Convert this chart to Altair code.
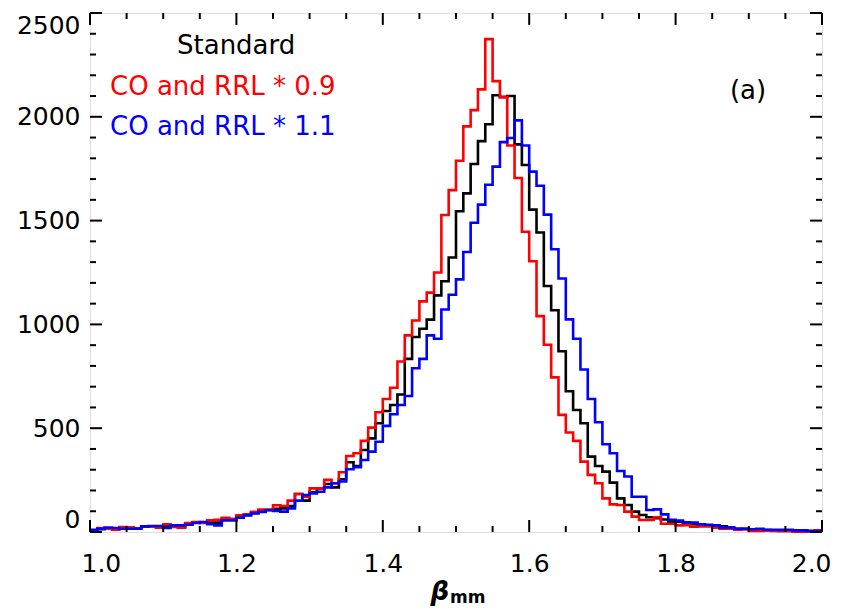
import altair as alt
import pandas as pd

# ---------------- data ----------------
bin_left = [round(1.0 + 0.01 * i, 2) for i in range(100)]

standard = [8, 14, 18, 16, 18, 20, 17, 26, 28, 24,
            28, 28, 24, 38, 45, 45, 46, 45, 62, 60,
            74, 82, 92, 102, 106, 112, 114, 125, 183, 151,
            191, 210, 231, 215, 254, 336, 318, 395, 451, 524,
            583, 612, 662, 834, 939, 979, 1023, 1140, 1208, 1322,
            1545, 1631, 1773, 1883, 1964, 2104, 2095, 2100, 1867, 1768,
            1553, 1443, 1185, 1068, 871, 678, 588, 524, 363, 318,
            291, 238, 162, 130, 98, 82, 71, 66, 60, 50,
            50, 43, 37, 36, 32, 29, 27, 22, 16, 14,
            12, 10, 9, 8, 7, 6, 5, 5, 4, 4]

co_rrl_09 = [8, 19, 16, 11, 24, 21, 16, 27, 27, 21,
             37, 24, 21, 43, 48, 43, 56, 59, 69, 64,
             80, 85, 97, 108, 108, 129, 125, 151, 183, 170,
             210, 210, 251, 235, 288, 366, 379, 439, 503, 577,
             641, 695, 821, 947, 1019, 1111, 1153, 1250, 1527, 1647,
             1788, 1954, 2032, 2132, 2374, 2172, 2096, 1862, 1705, 1446,
             1304, 1040, 902, 745, 564, 479, 439, 339, 275, 235,
             162, 133, 130, 98, 74, 58, 58, 71, 40, 40,
             32, 33, 26, 27, 27, 21, 16, 16, 11, 16,
             5, 5, 8, 5, 4, 4, 1, 1, 5, 8]

co_rrl_11 = [10, 16, 21, 19, 16, 16, 16, 27, 29, 29,
             19, 32, 32, 35, 43, 48, 37, 32, 56, 56,
             69, 80, 89, 97, 105, 101, 98, 114, 151, 178,
             186, 194, 215, 235, 243, 302, 312, 347, 387, 435,
             511, 567, 612, 655, 789, 834, 947, 931, 1072, 1143,
             1217, 1349, 1490, 1577, 1673, 1760, 1878, 1898, 1983, 1862,
             1736, 1668, 1529, 1362, 1221, 1024, 931, 783, 641, 529,
             423, 379, 294, 267, 170, 170, 106, 109, 85, 59,
             55, 47, 45, 37, 35, 32, 21, 21, 16, 16,
             13, 16, 11, 11, 10, 11, 8, 8, 5, 5]

series_names = ["Standard", "CO and RRL * 0.9", "CO and RRL * 1.1"]
series_colors = ["#000000", "#FF0000", "#0000FF"]
panel_label = "(a)"

x_major = [1.0, 1.2, 1.4, 1.6, 1.8, 2.0]
x_minor = [round(1.0 + 0.05 * i, 2) for i in range(21) if i % 4 != 0]
y_major = [0, 500, 1000, 1500, 2000, 2500]
y_minor = [v for v in range(100, 2500, 100) if v % 500 != 0]

# ---------------- layout ----------------
W, H = 732, 519
FONT = "DejaVu Sans"
MAJ, MIN = 12, 6

xs = alt.Scale(domain=[1.0, 2.0], nice=False, zero=False)
ys = alt.Scale(domain=[0, 2500], nice=False)

x_axis = alt.Axis(values=x_major, format=".1f", title=None, ticks=False, domain=False,
                  grid=False, labelFont=FONT, labelFontSize=25,
                  labelColor="black", labelPadding=19, labelFlush=True, labelFlushOffset=9)
y_axis = alt.Axis(values=y_major, format="d", title=None, ticks=False, domain=False,
                  grid=False, labelFont=FONT, labelFontSize=25,
                  labelColor="black", labelPadding=10, labelFlush=True)


def series_df(vals):
    return pd.DataFrame({"x": bin_left + [2.0], "y": vals + [vals[-1]]})


def line(vals, color):
    return alt.Chart(series_df(vals)).mark_line(
        interpolate="step-after", color=color, strokeWidth=2.6
    ).encode(x=alt.X("x:Q", scale=xs, axis=x_axis), y=alt.Y("y:Q", scale=ys, axis=y_axis))


layers = [line(standard, series_colors[0]),
          line(co_rrl_09, series_colors[1]),
          line(co_rrl_11, series_colors[2])]

# tick marks pointing inward on all four sides
def xticks(vals, length):
    d = pd.DataFrame({"x": vals})
    base = alt.Chart(d).mark_rule(color="black", strokeWidth=2)
    bottom = base.encode(x=alt.X("x:Q", scale=xs, axis=x_axis), y=alt.value(H), y2=alt.value(H - length))
    top = base.encode(x=alt.X("x:Q", scale=xs, axis=x_axis), y=alt.value(0), y2=alt.value(length))
    return [bottom, top]


def yticks(vals, length):
    d = pd.DataFrame({"y": vals})
    base = alt.Chart(d).mark_rule(color="black", strokeWidth=2)
    left = base.encode(y=alt.Y("y:Q", scale=ys, axis=y_axis), x=alt.value(0), x2=alt.value(length))
    right = base.encode(y=alt.Y("y:Q", scale=ys, axis=y_axis), x=alt.value(W), x2=alt.value(W - length))
    return [left, right]


layers += xticks(x_major, MAJ) + xticks(x_minor, MIN) + yticks(y_major, MAJ) + yticks(y_minor, MIN)

# legend-like labels
def label(text, color, px, py, align="left", size=26):
    return alt.Chart(pd.DataFrame({"t": [text]})).mark_text(
        align=align, baseline="middle", font=FONT, fontSize=size, color=color
    ).encode(x=alt.value(px), y=alt.value(py), text="t:N")


layers += [label(series_names[0], series_colors[0], 87, 33),
           label(series_names[1], series_colors[1], 20, 74),
           label(series_names[2], series_colors[2], 20, 114),
           label(panel_label, "black", 658, 78, align="center")]

# x-axis title: beta with subscript mm
beta = alt.Chart(pd.DataFrame({"t": ["β"]})).mark_text(
    align="right", baseline="alphabetic", font=FONT, fontSize=26,
    fontWeight="bold", fontStyle="italic", color="black"
).encode(x=alt.value(359), y=alt.value(587), text="t:N")
sub = alt.Chart(pd.DataFrame({"t": ["mm"]})).mark_text(
    align="left", baseline="alphabetic", font=FONT, fontSize=17,
    fontWeight="bold", color="black"
).encode(x=alt.value(360), y=alt.value(590), text="t:N")
layers += [beta, sub]

chart = alt.layer(*layers).properties(
    width=W, height=H,
    autosize=alt.AutoSizeParams(type="none"),
    padding={"left": 82, "top": 5, "right": 18, "bottom": 76},
).configure_view(stroke="black", strokeWidth=2.5).configure(background="white")

chart.save("out.html", embed_options={"renderer": "svg", "actions": False})
